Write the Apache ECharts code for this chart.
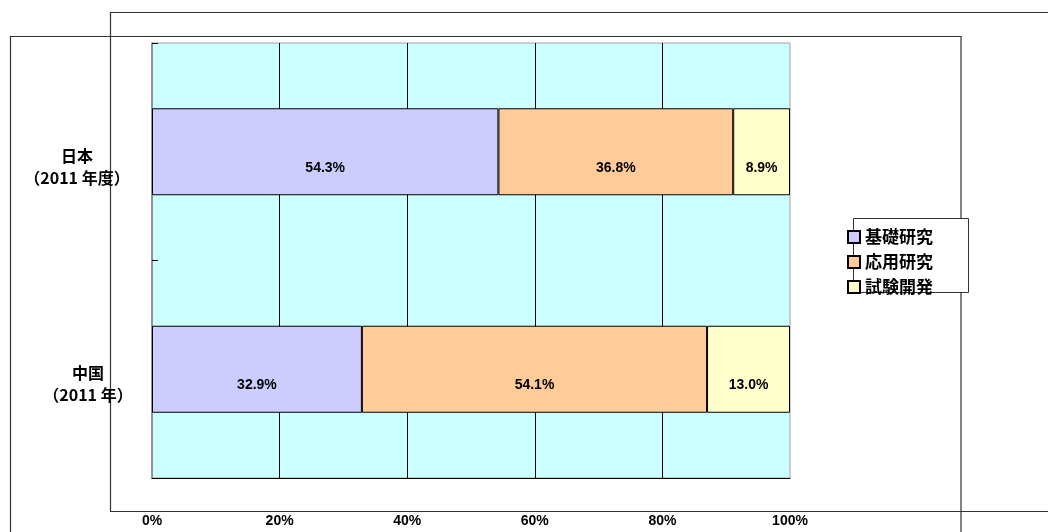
<!DOCTYPE html>
<html>
<head>
<meta charset="utf-8">
<script src="https://cdn.jsdelivr.net/npm/echarts@6/dist/echarts.min.js"></script>
<style>
  html, body { margin: 0; padding: 0; background: #fff; }
  #chart { width: 1048px; height: 532px; }
</style>
</head>
<body>
<div id="chart"></div>
<script>
// 国名と年度
const countries = ['日本', '中国'];
const years = ['（2011 年度）', '（2011 年）'];
const seriesNames = ['基礎研究', '応用研究', '試験開発'];
// 構成比 (%)
const basic = [54.3, 32.9];
const applied = [36.8, 54.1];
const development = [8.9, 13.0];
const xTicks = [0, 20, 40, 60, 80, 100];

const colors = ['#CCCCFF', '#FFCC99', '#FFFFCC'];
const numFont = '"Liberation Sans", "Noto Sans CJK JP", sans-serif';
const jpFont = '"Noto Sans CJK JP", "Liberation Sans", sans-serif';

const myChart = echarts.init(document.getElementById('chart'));

function barSeries(name, data, color) {
  return {
    name: name,
    type: 'bar',
    stack: 'total',
    barCategoryGap: '60%',
    data: data,
    itemStyle: { color: color, borderColor: '#000', borderWidth: 1 },
    label: {
      show: true,
      position: 'inside',
      offset: [0, 16],
      color: '#000',
      fontWeight: 'bold',
      fontSize: 14,
      fontFamily: numFont,
      formatter: p => p.value.toFixed(1) + '%'
    }
  };
}

const option = {
  animation: false,
  backgroundColor: '#fff',
  graphic: [
    {
      type: 'rect', z: 0,
      shape: { x: 110.5, y: 12.5, width: 1000, height: 499 },
      style: { fill: 'none', stroke: '#333', lineWidth: 1.2 }
    },
    {
      type: 'rect', z: 0,
      shape: { x: 10.5, y: 36.5, width: 950.5, height: 600 },
      style: { fill: 'none', stroke: '#333', lineWidth: 1.2 }
    },
    {
      type: 'rect', z: 3,
      shape: { x: 853.5, y: 218.5, width: 115, height: 74 },
      style: { fill: '#fff', stroke: '#333', lineWidth: 1 }
    }
  ],
  legend: {
    orient: 'vertical',
    left: 847,
    top: 228,
    padding: 0,
    z: 5,
    itemWidth: 12,
    itemHeight: 12,
    itemGap: 7,
    icon: 'rect',
    data: seriesNames,
    textStyle: {
      color: '#000',
      fontWeight: 'bold',
      fontSize: 17,
      lineHeight: 18,
      fontFamily: jpFont
    }
  },
  grid: {
    left: 152,
    right: 258,
    top: 43,
    bottom: 54,
    show: true,
    backgroundColor: '#CCFFFF',
    borderColor: '#a0a0a0',
    borderWidth: 1
  },
  xAxis: {
    type: 'value',
    min: xTicks[0],
    max: xTicks[xTicks.length - 1],
    interval: 20,
    axisLine: { show: true, lineStyle: { color: '#000', width: 1 } },
    axisTick: { show: false },
    axisLabel: {
      margin: 36,
      color: '#000',
      fontWeight: 'bold',
      fontSize: 14,
      fontFamily: numFont,
      formatter: '{value}%'
    },
    splitLine: {
      show: true,
      showMinLine: false,
      showMaxLine: false,
      lineStyle: { color: '#000', width: 1 }
    }
  },
  yAxis: {
    type: 'category',
    inverse: true,
    data: countries,
    axisLine: { show: true, lineStyle: { color: '#808080', width: 1.5 } },
    axisTick: { show: true, inside: true, length: 6, lineStyle: { color: '#000' } },
    axisLabel: {
      align: 'center',
      margin: 70,
      padding: [30, 0, 0, 0],
      formatter: (v, i) => {
        const s = i === 0 ? 'jp' : 'cn';
        return '{' + s + '|' + v + '}\n{' + s + '|' + years[i] + '}';
      },
      rich: {
        jp: {
          color: '#000', fontWeight: 'bold', fontSize: 16, lineHeight: 22,
          fontFamily: jpFont, padding: [0, 10, 0, 0]
        },
        cn: {
          color: '#000', fontWeight: 'bold', fontSize: 16, lineHeight: 22,
          fontFamily: jpFont, padding: [0, 0, 0, 12]
        }
      }
    }
  },
  series: [
    barSeries(seriesNames[0], basic, colors[0]),
    barSeries(seriesNames[1], applied, colors[1]),
    barSeries(seriesNames[2], development, colors[2])
  ]
};

myChart.setOption(option);
</script>
</body>
</html>
